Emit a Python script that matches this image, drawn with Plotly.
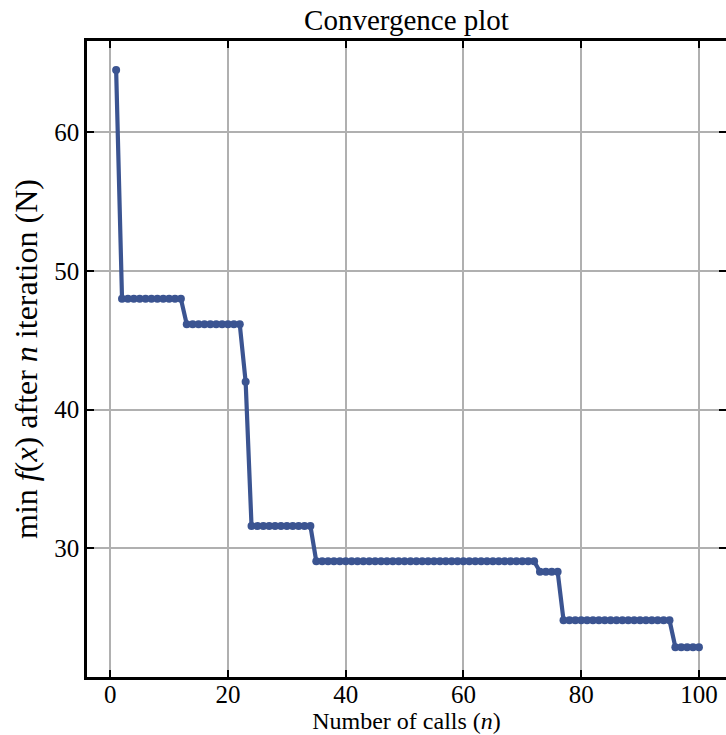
import plotly.graph_objects as go

# Number of calls
calls = list(range(1, 101))

# Minimum f(x) after n iterations (N)
min_f = [
    64.5,
    48.0, 48.0, 48.0, 48.0, 48.0, 48.0, 48.0, 48.0, 48.0, 48.0, 48.0,
    46.15, 46.15, 46.15, 46.15, 46.15, 46.15, 46.15, 46.15, 46.15, 46.15,
    42.0,
    31.6, 31.6, 31.6, 31.6, 31.6, 31.6, 31.6, 31.6, 31.6, 31.6, 31.6,
    29.05, 29.05, 29.05, 29.05, 29.05, 29.05, 29.05, 29.05, 29.05, 29.05,
    29.05, 29.05, 29.05, 29.05, 29.05, 29.05, 29.05, 29.05, 29.05, 29.05,
    29.05, 29.05, 29.05, 29.05, 29.05, 29.05, 29.05, 29.05, 29.05, 29.05,
    29.05, 29.05, 29.05, 29.05, 29.05, 29.05, 29.05, 29.05,
    28.3, 28.3, 28.3, 28.3,
    24.8, 24.8, 24.8, 24.8, 24.8, 24.8, 24.8, 24.8, 24.8, 24.8,
    24.8, 24.8, 24.8, 24.8, 24.8, 24.8, 24.8, 24.8, 24.8,
    22.85, 22.85, 22.85, 22.85, 22.85,
]

x_ticks = [0, 20, 40, 60, 80, 100]
y_ticks = [30, 40, 50, 60]

FONT = "Liberation Serif"
LINE_COLOR = "#3b5491"

fig = go.Figure()
fig.add_trace(go.Scatter(
    x=calls, y=min_f, mode="lines+markers",
    line=dict(color=LINE_COLOR, width=4.2),
    marker=dict(color=LINE_COLOR, size=8),
    showlegend=False,
))
# helper trace so the right-hand tick axis is drawn
fig.add_trace(go.Scatter(
    x=[calls[0]], y=[min_f[0]], yaxis="y2", mode="markers",
    marker=dict(opacity=0), showlegend=False, hoverinfo="skip",
))

fig.update_layout(
    width=726, height=735,
    margin=dict(l=87, r=0, t=41, b=58),
    paper_bgcolor="white", plot_bgcolor="white",
    font=dict(family=FONT, size=25, color="black"),
    title=dict(text="Convergence plot", x=0.5, xref="paper", xanchor="center",
               y=1 - 20 / 735, yref="container", yanchor="middle",
               font=dict(family=FONT, size=29, color="black")),
    xaxis=dict(
        range=[-3.95, 104.6], tickvals=x_ticks,
        showline=True, linecolor="black", linewidth=2.5, mirror="ticks",
        ticks="inside", ticklen=7, tickwidth=1.6, tickcolor="black",
        showgrid=True, gridcolor="#b0b0b0", gridwidth=1.6,
        zeroline=False,
        tickfont=dict(family=FONT, size=25),
        ticklabelstandoff=-7,
        title=dict(text="Number of calls (<i>n</i>)", standoff=5,
                   font=dict(family=FONT, size=24)),
    ),
    yaxis=dict(
        range=[20.7, 66.6], tickvals=y_ticks,
        showline=True, linecolor="black", linewidth=2.5, mirror=False,
        ticks="inside", ticklen=7, tickwidth=1.6, tickcolor="black",
        showgrid=True, gridcolor="#b0b0b0", gridwidth=1.6,
        zeroline=False,
        tickfont=dict(family=FONT, size=25),
        title=dict(text="min <i>f</i>(<i>x</i>) after <i>n</i> iteration (N)",
                   standoff=8, font=dict(family=FONT, size=32)),
    ),
    yaxis2=dict(
        overlaying="y", side="right", range=[20.7, 66.6], tickvals=y_ticks,
        showticklabels=False, showgrid=False, zeroline=False, showline=False,
        ticks="inside", ticklen=7, tickwidth=1.6, tickcolor="black",
    ),
)

fig.write_html("out.html")
